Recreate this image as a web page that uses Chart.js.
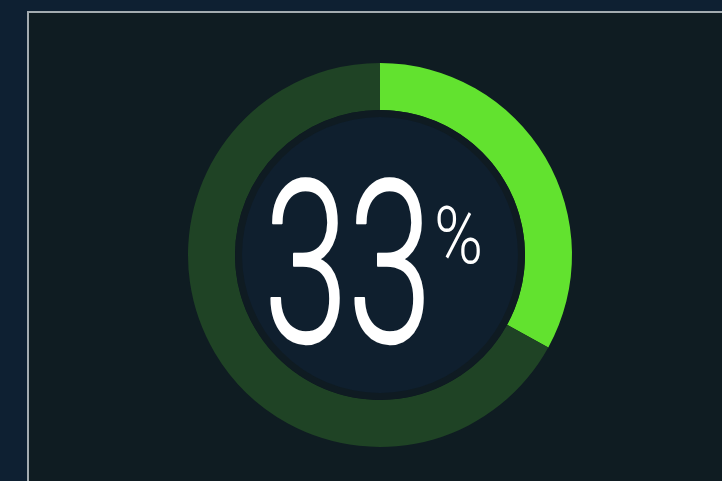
<!DOCTYPE html>
<html>
<head>
<meta charset="utf-8">
<script src="https://cdn.jsdelivr.net/npm/chart.js@4.4.0/dist/chart.umd.min.js"></script>
<style>
  html, body { margin: 0; padding: 0; background: #0e2032; overflow: hidden; }
  #panel {
    position: absolute; left: 27px; top: 11px; width: 720px; height: 500px;
    background: #0f1c22; border: 2px solid #a3abb0; box-sizing: border-box;
  }
  #wrap { position: absolute; left: 0; top: 0; width: 722px; height: 481px; }
</style>
</head>
<body>
<div id="panel"></div>
<div id="wrap"><canvas id="gauge"></canvas></div>
<script>
const labels = ["Done", "Remaining"];
const values = [33, 67];
const colors = ["#62e22f", "#1f4325"];
const centerLabel = "33";

const centerPlugin = {
  id: "center",
  afterDatasetsDraw(chart) {
    const ctx = chart.ctx;
    const arc = chart.getDatasetMeta(0).data[0];
    const x = arc.x, y = arc.y;
    ctx.save();
    ctx.beginPath();
    ctx.arc(x, y, arc.innerRadius, 0, Math.PI * 2);
    ctx.fillStyle = "#0f1b22";
    ctx.fill();
    ctx.beginPath();
    ctx.arc(x, y, arc.innerRadius - 7, 0, Math.PI * 2);
    ctx.fillStyle = "#0f1f2e";
    ctx.fill();

    ctx.fillStyle = "#ffffff";
    ctx.strokeStyle = "#ffffff";
    ctx.lineJoin = "round";
    ctx.textBaseline = "alphabetic";
    ctx.textAlign = "left";
    ctx.save();
    ctx.translate(x - 116, y + 87);
    ctx.scale(0.67, 1);
    ctx.font = "300 226px Roboto";
    ctx.lineWidth = 2.5;
    ctx.fillText(centerLabel, 0, 0);
    ctx.strokeText(centerLabel, 0, 0);
    ctx.restore();

    ctx.save();
    ctx.translate(x + 54, y + 8);
    ctx.scale(0.84, 1);
    ctx.font = "300 79px Roboto";
    ctx.fillText("%", 0, 0);
    ctx.restore();
    ctx.restore();
  }
};

new Chart(document.getElementById("gauge"), {
  type: "doughnut",
  data: {
    labels: labels,
    datasets: [{
      data: values,
      backgroundColor: colors,
      borderWidth: 0,
      hoverOffset: 0
    }]
  },
  options: {
    responsive: true,
    maintainAspectRatio: false,
    animation: false,
    cutout: 145,
    layout: { padding: { left: 188, right: 150, top: 63, bottom: 34 } },
    plugins: { legend: { display: false }, tooltip: { enabled: false } }
  },
  plugins: [centerPlugin]
});
</script>
</body>
</html>
